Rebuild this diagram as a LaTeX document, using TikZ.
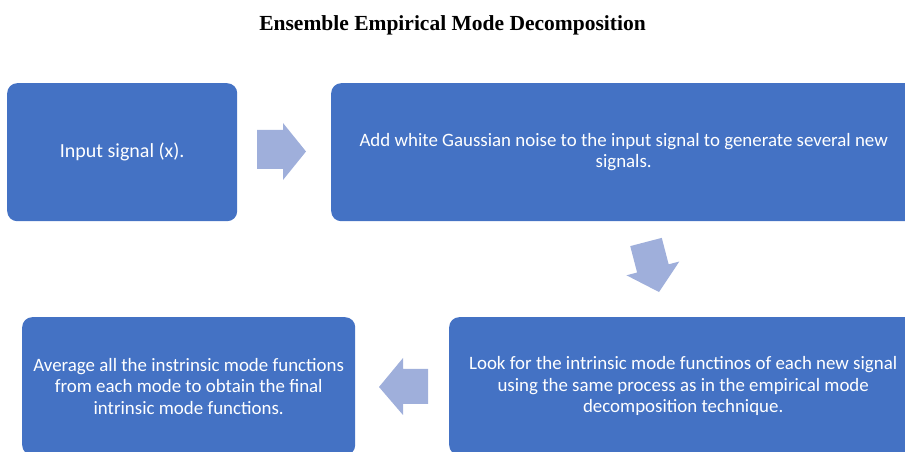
\documentclass[tikz,border=0pt]{standalone}
\usepackage{fontspec}
\setmainfont{Carlito}
\newfontfamily\titlefont{Liberation Serif}
\definecolor{boxblue}{HTML}{4472C4}
\definecolor{arrowblue}{HTML}{9FAFDB}
\begin{document}
\begin{tikzpicture}[x=1pt,y=1pt,
  stepbox/.style={fill=boxblue, draw=none, rounded corners=10pt, anchor=north west,
    inner sep=0pt, text=white, align=center,
    font=\fontsize{18.9}{21.5}\selectfont},
  flowarrow/.style={fill=arrowblue, draw=none}]
\useasboundingbox (0,0) rectangle (905,452);
\clip (0,0) rectangle (905,452);
% title
\node[font=\titlefont\bfseries\fontsize{21.5}{25}\selectfont] (title) at (452.5,452-25) {Ensemble Empirical Mode Decomposition};
% boxes
\node[stepbox, minimum width=230pt, minimum height=138pt, font=\fontsize{20}{23}\selectfont] (b1) at (7,452-83) {Input signal (x).};
\node[stepbox, minimum width=585pt, minimum height=138pt] (b2) at (331,452-83) {Add white Gaussian noise to the input signal to generate several new\\signals.};
\node[stepbox, minimum width=468pt, minimum height=138pt] (b3) at (449,452-317) {Look for the intrinsic mode functinos of each new signal\\using the same process as in the empirical mode\\decomposition technique.};
\node[stepbox, minimum width=333pt, minimum height=138pt] (b4) at (22,452-317) {Average all the instrinsic mode functions\\from each mode to obtain the final\\intrinsic mode functions.};
% right arrow
\fill[flowarrow] (257,452-130) -- (283,452-130) -- (283,452-123) -- (306,452-151.5)
  -- (283,452-180) -- (283,452-169) -- (257,452-169) -- cycle;
% down arrow (slightly rotated)
\begin{scope}[shift={(646,452-242)}, rotate=14.6]
\fill[flowarrow] (-16.3,0) -- (16.3,0) -- (16.3,-27.3) -- (27.3,-27.3) -- (0,-51.7)
  -- (-27.3,-27.3) -- (-16.3,-27.3) -- cycle;
\end{scope}
% left arrow
\fill[flowarrow] (428,452-369) -- (403,452-369) -- (403,452-358) -- (379,452-387)
  -- (403,452-415) -- (403,452-404) -- (428,452-404) -- cycle;
\end{tikzpicture}
\end{document}
